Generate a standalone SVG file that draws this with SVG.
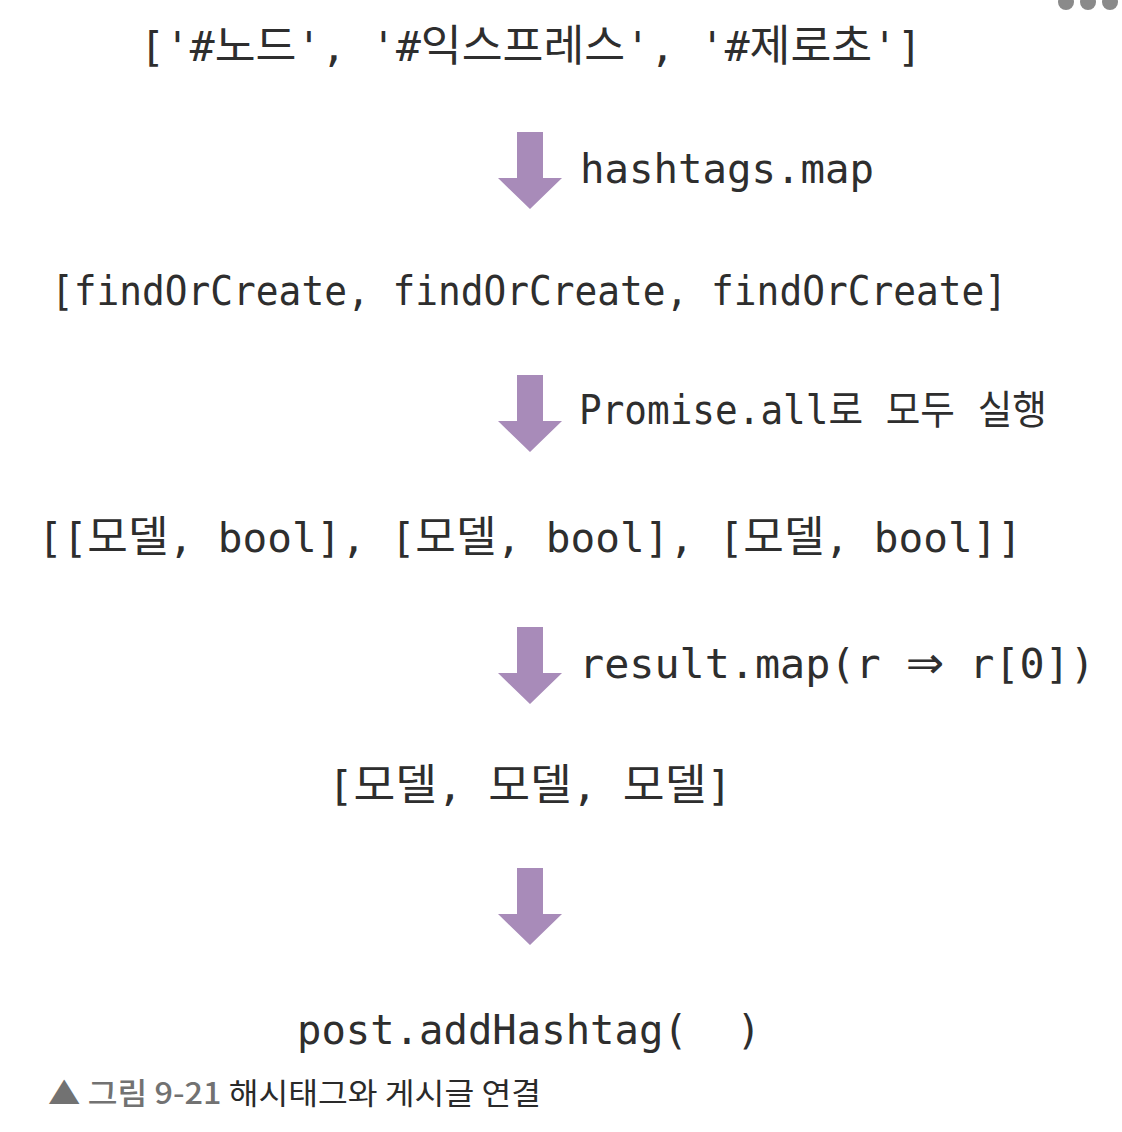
<svg xmlns="http://www.w3.org/2000/svg" width="1122" height="1132" viewBox="0 0 1122 1132">
<style>
.code{font-family:"DejaVu Sans Mono","Noto Sans CJK KR",monospace;font-size:40px;fill:#2e2e2e;white-space:pre}
.ko{font-family:"Noto Sans CJK KR",sans-serif;font-size:43px}
.sym{font-family:"DejaVu Sans",sans-serif;font-size:44px}
.arrow{fill:#a88bb9}
.cap{font-family:"Noto Sans CJK KR","Noto Sans",sans-serif;font-size:30px;fill:#2a2a2a}
.capg{fill:#727272;font-weight:500}
.dot{fill:#8a8a8a}
</style>
<defs>
<path id="arr" d="M-13,0 H13 V46 H32 L0,77 L-32,46 H-13 Z"/>
</defs>
<rect width="1122" height="1132" fill="#ffffff"/>
<g id="menu-dots">
<circle class="dot" cx="1066" cy="2" r="8"/>
<circle class="dot" cx="1088" cy="2" r="8"/>
<circle class="dot" cx="1110" cy="2" r="8"/>
</g>
<g id="node-hashtags">
<text class="code" x="140" y="61" textLength="782" lengthAdjust="spacingAndGlyphs">['#<tspan class="ko">노드</tspan>', '#<tspan class="ko">익스프레스</tspan>', '#<tspan class="ko">제로초</tspan>']</text>
</g>
<g id="node-findOrCreate">
<text class="code" x="51" y="305" textLength="956" lengthAdjust="spacingAndGlyphs">[findOrCreate, findOrCreate, findOrCreate]</text>
</g>
<g id="node-results">
<text class="code" x="38" y="552" textLength="984" lengthAdjust="spacingAndGlyphs">[[<tspan class="ko">모델</tspan>, bool], [<tspan class="ko">모델</tspan>, bool], [<tspan class="ko">모델</tspan>, bool]]</text>
</g>
<g id="node-models">
<text class="code" x="328" y="800" textLength="404" lengthAdjust="spacingAndGlyphs">[<tspan class="ko">모델</tspan>, <tspan class="ko">모델</tspan>, <tspan class="ko">모델</tspan>]</text>
</g>
<g id="node-addHashtag">
<text class="code" x="297" y="1044" textLength="464" lengthAdjust="spacingAndGlyphs" xml:space="preserve">post.addHashtag(  )</text>
</g>
<g id="connectors">
<use href="#arr" class="arrow" x="530" y="132"/>
<text class="code" x="580" y="183" textLength="294" lengthAdjust="spacingAndGlyphs">hashtags.map</text>
<use href="#arr" class="arrow" x="530" y="375"/>
<text class="code" x="579" y="424" textLength="468" lengthAdjust="spacingAndGlyphs">Promise.all로 모두 실행</text>
<use href="#arr" class="arrow" x="530" y="627"/>
<text class="code" x="579" y="678" textLength="516" lengthAdjust="spacingAndGlyphs">result.map(r <tspan class="sym">⇒</tspan> r[0])</text>
<use href="#arr" class="arrow" x="530" y="868"/>
</g>
<g id="caption">
<text class="cap" x="48" y="1104" textLength="493" lengthAdjust="spacingAndGlyphs"><tspan class="capg">▲ 그림 9-21</tspan> 해시태그와 게시글 연결</text>
</g>
</svg>
